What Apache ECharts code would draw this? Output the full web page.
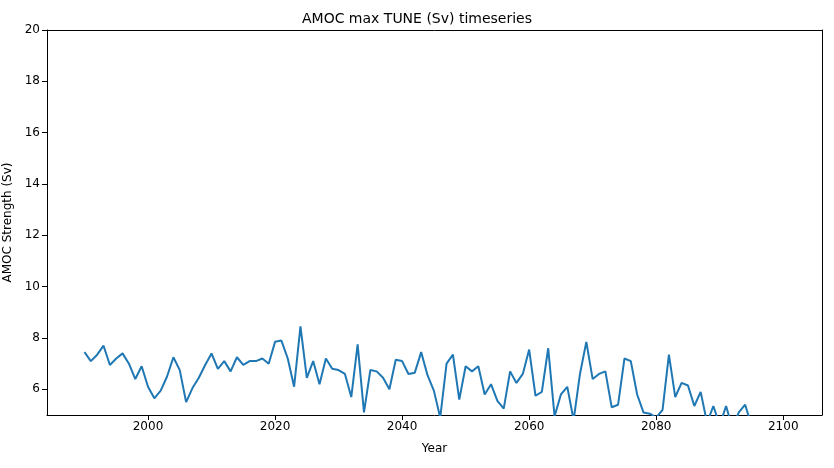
<!DOCTYPE html>
<html>
<head>
<meta charset="utf-8">
<script src="https://cdn.jsdelivr.net/npm/echarts@6/dist/echarts.min.js"></script>
<style>html,body{margin:0;padding:0;background:#fff}#main{width:834px;height:468px}</style>
</head>
<body>
<div id="main"></div>
<script>
// 年份和AMOC数值
var startYear = 1990;
var amocValues = [
	7.45, 7.1, 7.35, 7.7, 6.95, 7.2, 7.4, 7.0, 6.4, 6.9,
	6.1, 5.65, 5.95, 6.5, 7.25, 6.75, 5.5, 6.05, 6.45, 6.95,
	7.4, 6.8, 7.1, 6.7, 7.25, 6.95, 7.1, 7.1, 7.2, 7.0,
	7.85, 7.9, 7.2, 6.1, 8.45, 6.45, 7.1, 6.2, 7.2, 6.8,
	6.75, 6.6, 5.7, 7.75, 5.1, 6.75, 6.7, 6.45, 6.0, 7.15,
	7.1, 6.6, 6.65, 7.45, 6.55, 5.95, 4.9, 7.0, 7.35, 5.6,
	6.9, 6.7, 6.9, 5.8, 6.2, 5.55, 5.25, 6.7, 6.25, 6.6,
	7.55, 5.75, 5.9, 7.6, 4.95, 5.8, 6.1, 4.8, 6.6, 7.85,
	6.4, 6.6, 6.7, 5.3, 5.4, 7.2, 7.1, 5.8, 5.1, 5.05,
	4.9, 5.2, 7.35, 5.7, 6.25, 6.15, 5.35, 5.9, 4.7, 5.35,
	4.6, 5.35, 4.5, 5.1, 5.4, 4.6, 4.5, 4.3, 4.6, 4.2, 4.4
];
// 刻度
var xTicks = [2000, 2020, 2040, 2060, 2080, 2100];
var yTicks = [6, 8, 10, 12, 14, 16, 18, 20];
var seriesData = amocValues.map(function (v, i) { return [startYear + i, v]; });

var myChart = echarts.init(document.getElementById('main'));
var font = 'DejaVu Sans';
var txt = { fontFamily: font, fontSize: 12, color: '#000' };
var plain = function (v) { return String(v); };
var frameAxis = {
	type: 'value', axisLine: { show: true, onZero: false, lineStyle: { color: '#000' } },
	axisTick: { show: false }, axisLabel: { show: false }, splitLine: { show: false }
};
option = {
	animation: false,
	title: {
		text: 'AMOC max TUNE (Sv) timeseries',
		left: 'center',
		top: 7,
		textStyle: { fontFamily: font, fontSize: 14, fontWeight: 'normal', color: '#000' }
	},
	grid: { left: 47, right: 12, top: 30, bottom: 53, outerBoundsMode: 'none', containLabel: false },
	xAxis: [{
		type: 'value',
		min: 1984.1,
		max: 2106.1,
		name: 'Year',
		nameLocation: 'middle',
		nameGap: 28,
		nameTextStyle: txt,
		axisLine: { onZero: false, lineStyle: { color: '#000' } },
		axisTick: { show: true, length: 5, customValues: xTicks, lineStyle: { color: '#000' } },
		axisLabel: Object.assign({ customValues: xTicks, margin: 6, formatter: plain }, txt),
		splitLine: { show: false }
	}, Object.assign({ position: 'top', min: 1984.1, max: 2106.1 }, frameAxis)],
	yAxis: [{
		type: 'value',
		min: 5,
		max: 20,
		name: 'AMOC Strength (Sv)',
		nameLocation: 'middle',
		nameGap: 32,
		nameTextStyle: txt,
		axisLine: { show: true, onZero: false, lineStyle: { color: '#000' } },
		axisTick: { show: true, length: 5, customValues: yTicks, lineStyle: { color: '#000' } },
		axisLabel: Object.assign({ customValues: yTicks, margin: 7, formatter: plain }, txt),
		splitLine: { show: false }
	}, Object.assign({ position: 'right', min: 5, max: 20 }, frameAxis)],
	series: [{
		type: 'line',
		data: seriesData,
		showSymbol: false,
		clip: true,
		lineStyle: { color: '#1f77b4', width: 2 }
	}]
};
myChart.setOption(option);
</script>
</body>
</html>
